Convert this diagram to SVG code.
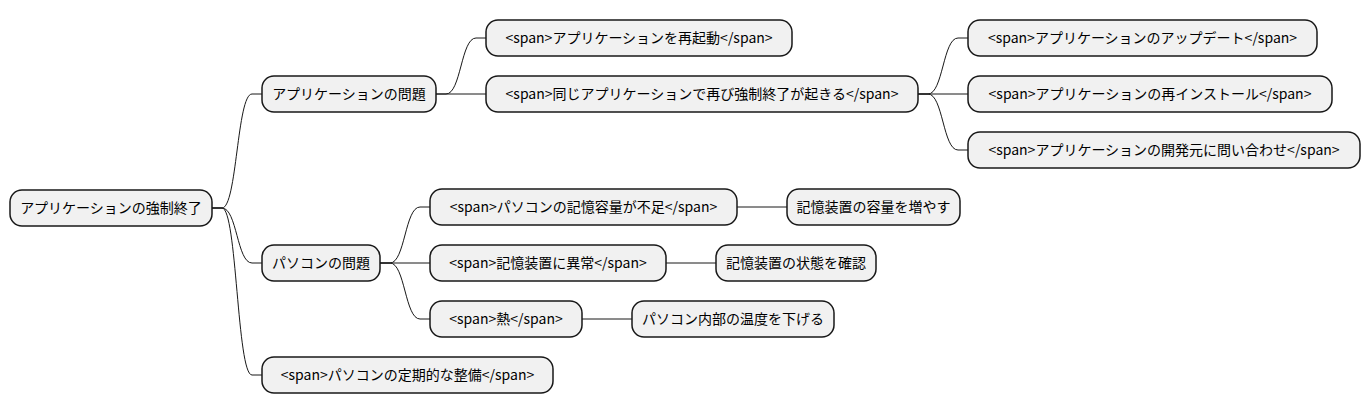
<svg xmlns="http://www.w3.org/2000/svg" width="1370" height="415" viewBox="0 0 1370 415">
<style>
.n rect{fill:#F1F1F1;stroke:#181818;stroke-width:1.5}
.n text{font-family:"Noto Sans CJK JP","DejaVu Sans",sans-serif;font-size:14px;fill:#000;text-anchor:middle}
.c path{fill:none;stroke:#181818;stroke-width:1}
</style>
<rect width="1370" height="415" fill="#fff"/>
<g class="c">
<path d="M212,208 L222,208 C237,208 237,94 252,94 L262,94"/>
<path d="M212,208 L222,208 C237,208 237,263 252,263 L262,263"/>
<path d="M212,208 L222,208 C237,208 237,375 252,375 L262,375"/>
<path d="M436,94 L446,94 C461,94 461,38 476,38 L486,38"/>
<path d="M436,94 L486,94"/>
<path d="M918,94 L928,94 C943,94 943,38 958,38 L968,38"/>
<path d="M918,94 L968,94"/>
<path d="M918,94 L928,94 C943,94 943,150 958,150 L968,150"/>
<path d="M380,263 L390,263 C405,263 405,207 420,207 L430,207"/>
<path d="M380,263 L430,263"/>
<path d="M380,263 L390,263 C405,263 405,319 420,319 L430,319"/>
<path d="M737,207 L787,207"/>
<path d="M666,263 L716,263"/>
<path d="M582,319 L632,319"/>
</g>
<g id="root" class="n"><rect x="10" y="190" width="202" height="36" rx="12"/><text x="111" y="213">アプリケーションの強制終了</text></g>
<g id="app" class="n"><rect x="262" y="76" width="174" height="36" rx="12"/><text x="349" y="99">アプリケーションの問題</text></g>
<g id="pc" class="n"><rect x="262" y="245" width="118" height="36" rx="12"/><text x="321" y="268">パソコンの問題</text></g>
<g id="maint" class="n"><rect x="262" y="357" width="291" height="36" rx="12"/><text x="407.5" y="380">&lt;span&gt;パソコンの定期的な整備&lt;/span&gt;</text></g>
<g id="restart" class="n"><rect x="486" y="20" width="306" height="36" rx="12"/><text x="639" y="43">&lt;span&gt;アプリケーションを再起動&lt;/span&gt;</text></g>
<g id="again" class="n"><rect x="486" y="76" width="432" height="36" rx="12"/><text x="702" y="99">&lt;span&gt;同じアプリケーションで再び強制終了が起きる&lt;/span&gt;</text></g>
<g id="update" class="n"><rect x="968" y="20" width="349" height="36" rx="12"/><text x="1142.5" y="43">&lt;span&gt;アプリケーションのアップデート&lt;/span&gt;</text></g>
<g id="reinstall" class="n"><rect x="968" y="76" width="364" height="36" rx="12"/><text x="1150" y="99">&lt;span&gt;アプリケーションの再インストール&lt;/span&gt;</text></g>
<g id="contact" class="n"><rect x="968" y="132" width="392" height="36" rx="12"/><text x="1164" y="155">&lt;span&gt;アプリケーションの開発元に問い合わせ&lt;/span&gt;</text></g>
<g id="mem" class="n"><rect x="430" y="189" width="307" height="36" rx="12"/><text x="583.5" y="212">&lt;span&gt;パソコンの記憶容量が不足&lt;/span&gt;</text></g>
<g id="memfix" class="n"><rect x="787" y="189" width="173" height="36" rx="12"/><text x="873.5" y="212">記憶装置の容量を増やす</text></g>
<g id="disk" class="n"><rect x="430" y="245" width="236" height="36" rx="12"/><text x="548" y="268">&lt;span&gt;記憶装置に異常&lt;/span&gt;</text></g>
<g id="diskfix" class="n"><rect x="716" y="245" width="160" height="36" rx="12"/><text x="796" y="268">記憶装置の状態を確認</text></g>
<g id="heat" class="n"><rect x="430" y="301" width="152" height="36" rx="12"/><text x="506" y="324">&lt;span&gt;熱&lt;/span&gt;</text></g>
<g id="heatfix" class="n"><rect x="632" y="301" width="202" height="36" rx="12"/><text x="733" y="324">パソコン内部の温度を下げる</text></g>
</svg>
